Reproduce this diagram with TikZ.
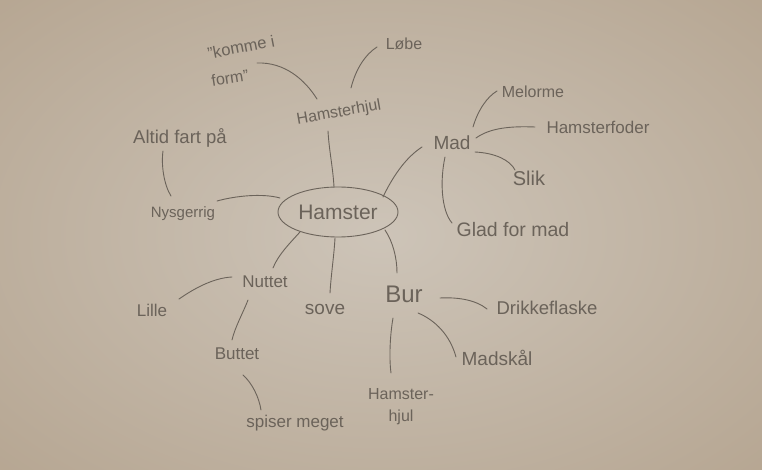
\documentclass[tikz,border=0pt]{standalone}
\usepackage{fontspec}
\setmainfont{Liberation Sans}
\usetikzlibrary{shapes.geometric,calc}
\definecolor{pencil}{HTML}{6B635A}
\definecolor{paperin}{HTML}{CDC4B8}
\definecolor{paperout}{HTML}{B6A692}
\begin{document}
\begin{tikzpicture}[x=1pt,y=-1pt,
  hw/.style={text=pencil, inner sep=1pt, font=\fontsize{#1}{#1}\selectfont},
  hw/.default=17,
  link/.style={draw=pencil, line width=0.9pt, line cap=round}]
\useasboundingbox (0,0) rectangle (762,470);
\begin{scope}
\clip (0,0) rectangle (762,470);
\shade[inner color=paperin, outer color=paperout] (-160,-110) rectangle (922,580);
\end{scope}

% nodes
\node[hw=21, shape=ellipse, draw=pencil, line width=0.9pt, minimum width=120pt, minimum height=50pt] (hamster) at (338,212) {Hamster};
\node[hw=16, rotate=10] (hjul) at (339,113) {Hamsterhjul};
\node[hw=16.5, rotate=11] (komme) at (241,47) {"komme i};
\node[hw=16, rotate=9] (form) at (230,78) {form"};
\node[hw=16] (lobe) at (404,44) {Løbe};
\node[hw=18.5] (altid) at (180,138) {Altid fart på};
\node[hw=15] (nys) at (183,214) {Nysgerrig};
\node[hw=19] (mad) at (452,143) {Mad};
\node[hw=16] (melorme) at (533,92) {Melorme};
\node[hw=17] (hf) at (598,127) {Hamsterfoder};
\node[hw=20] (slik) at (529,178) {Slik};
\node[hw=19.5] (glad) at (513,230) {Glad for mad};
\node[hw=17] (nuttet) at (265,282) {Nuttet};
\node[hw=17] (lille) at (152,310) {Lille};
\node[hw=19] (sove) at (325,309) {sove};
\node[hw=24] (bur) at (404,294) {Bur};
\node[hw=18.5] (drikke) at (547,308) {Drikkeflaske};
\node[hw=19] (madskal) at (497,358) {Madskål};
\node[hw=16, align=center, font=\fontsize{16}{22}\selectfont] (hjul2) at (401,407) {Hamster-\\hjul};
\node[hw=17] (buttet) at (237,354) {Buttet};
\node[hw=17] (spiser) at (295,423) {spiser meget};

% connectors
\draw[link] ($(hamster)+(-4,-25)$) .. controls +(-1,-19) and +(1,19) .. ($(hjul)+(-11,18)$);
\draw[link] ($(hjul)+(-22,-14)$) .. controls +(-12,-19) and +(28,-1) .. ($(form)+(27,-15)$);
\draw[link] ($(hjul)+(12,-25)$) .. controls +(5,-20) and +(-11,7) .. ($(lobe)+(-27,3)$);
\draw[link] ($(altid)+(-17,13)$) .. controls +(-2,14) and +(-7,-11) .. ($(nys)+(-12,-18)$);
\draw[link] ($(nys)+(34,-13)$) .. controls +(18,-5) and +(-18,-5) .. ($(hamster)+(-58,-14)$);
\draw[link] ($(hamster)+(45,-15)$) .. controls +(9,-19) and +(-17,11) .. ($(mad)+(-30,4)$);
\draw[link] ($(mad)+(21,-16)$) .. controls +(5,-17) and +(-10,6) .. ($(melorme)+(-36,-1)$);
\draw[link] ($(mad)+(24,-5)$) .. controls +(14,-10) and +(-25,-1) .. ($(hf)+(-63,0)$);
\draw[link] ($(mad)+(23,9)$) .. controls +(20,1) and +(-5,-10) .. ($(slik)+(-14,-8)$);
\draw[link] ($(mad)+(-7,14)$) .. controls +(-5,23) and +(-11,-13) .. ($(glad)+(-61,-7)$);
\draw[link] ($(hamster)+(-38,20)$) .. controls +(-10,11) and +(5,-13) .. ($(nuttet)+(8,-14)$);
\draw[link] ($(hamster)+(-3,26)$) .. controls +(-1,18) and +(1,-18) .. ($(sove)+(5,-16)$);
\draw[link] ($(hamster)+(47,18)$) .. controls +(8,12) and +(0,-15) .. ($(bur)+(-7,-21)$);
\draw[link] ($(nuttet)+(-33,-5)$) .. controls +(-20,1) and +(13,-9) .. ($(lille)+(27,-11)$);
\draw[link] ($(nuttet)+(-17,18)$) .. controls +(-5,13) and +(3,-13) .. ($(buttet)+(-5,-14)$);
\draw[link] ($(buttet)+(6,21)$) .. controls +(9,8) and +(-2,-13) .. ($(spiser)+(-34,-13)$);
\draw[link] ($(bur)+(36,4)$) .. controls +(18,-1) and +(-11,-9) .. ($(drikke)+(-60,1)$);
\draw[link] ($(bur)+(14,19)$) .. controls +(17,7) and +(-6,-22) .. ($(madskal)+(-41,-1)$);
\draw[link] ($(bur)+(-11,24)$) .. controls +(-3,17) and +(-2,-15) .. ($(hjul2)+(-10,-34)$);
\end{tikzpicture}
\end{document}
